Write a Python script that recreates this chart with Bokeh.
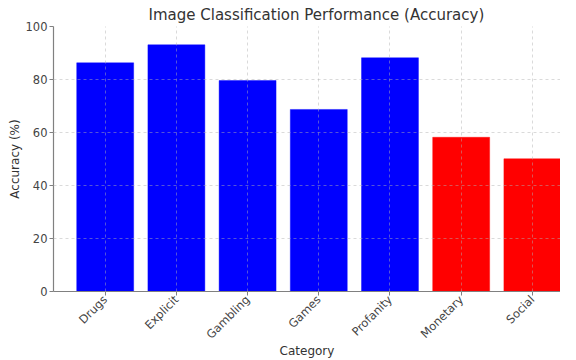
import math
from bokeh.plotting import figure
from bokeh.models import Range1d, FixedTicker
from bokeh.embed import file_html
from bokeh.resources import INLINE

categories = ["Drugs", "Explicit", "Gambling", "Games", "Profanity", "Monetary", "Social"]
accuracy = [86.3, 93.1, 79.6, 68.7, 88.2, 58.2, 50.1]
colors = ["blue", "blue", "blue", "blue", "blue", "red", "red"]
y_ticks = [0, 20, 40, 60, 80, 100]

xs = list(range(len(categories)))

p = figure(frame_width=507, frame_height=265, output_backend="svg", toolbar_location=None,
           x_range=Range1d(-0.726, 6.395), y_range=Range1d(0, 100),
           title="Image Classification Performance (Accuracy)")
p.min_border_left = 53
p.min_border_right = 0
p.min_border_bottom = 0
p.min_border_top = 0
p.outline_line_color = None

p.vbar(x=xs, top=accuracy, width=0.8, bottom=0, fill_color=colors,
       line_color=colors, line_alpha=0.4, line_width=1)

p.title.align = "left"
p.title.offset = 95
p.title.text_font = "DejaVu Sans"
p.title.text_font_size = "15px"
p.title.text_font_style = "normal"
p.title.text_color = "#333333"
p.title.standoff = 6

for ax in (p.xaxis[0], p.yaxis[0]):
    ax.axis_line_color = "#808080"
    ax.axis_line_width = 1.2
    ax.major_tick_line_color = "#808080"
    ax.major_tick_out = 4
    ax.major_tick_in = 0
    ax.minor_tick_line_color = None
    ax.major_label_text_font = "DejaVu Sans"
    ax.major_label_text_font_size = "11.5px"
    ax.major_label_text_color = "#444444"
    ax.axis_label_text_font = "DejaVu Sans"
    ax.axis_label_text_font_size = "12px"
    ax.axis_label_text_font_style = "normal"
    ax.axis_label_text_color = "#333333"

p.xaxis.ticker = FixedTicker(ticks=xs)
p.xaxis.major_label_overrides = {i: c for i, c in enumerate(categories)}
p.xaxis.major_label_orientation = math.pi / 4
p.xaxis.major_label_standoff = 2
p.xaxis.axis_label = "Category"
p.xaxis.axis_label_standoff = -6
p.yaxis.ticker = FixedTicker(ticks=y_ticks)
p.yaxis.major_label_standoff = 2
p.yaxis.axis_label = "Accuracy (%)"
p.yaxis.axis_label_standoff = 1

for g in (p.xgrid[0], p.ygrid[0]):
    g.grid_line_color = "#b0b0b0"
    g.grid_line_alpha = 0.6
    g.grid_line_dash = "3 3"
    g.grid_line_width = 0.8
    g.level = "overlay"

open("out.html", "w").write(file_html(p, INLINE))
